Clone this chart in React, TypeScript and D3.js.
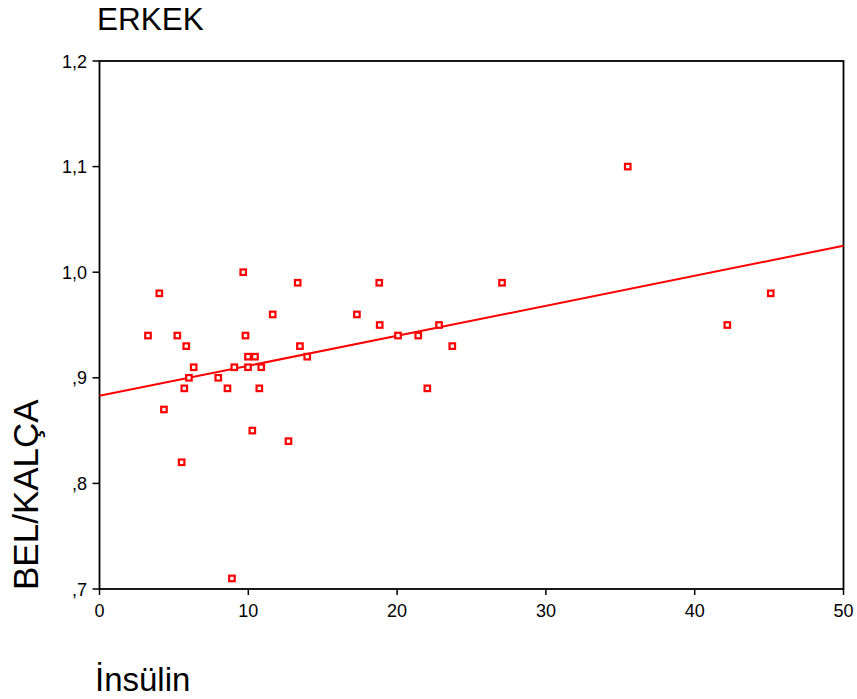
import React from "react";
import * as d3 from "d3";

const insulin = [3.26, 4.02, 4.33, 5.23, 5.52, 5.70, 5.83, 6.01, 6.33, 7.98, 8.60, 8.90, 9.06, 9.66, 9.81, 9.98, 9.98, 10.27, 10.45, 10.74, 10.87, 11.64, 12.70, 13.32, 13.47, 13.96, 17.30, 18.80, 18.83, 20.06, 21.42, 22.03, 22.82, 23.71, 27.05, 35.50, 42.19, 45.11];
const belKalca = [0.94, 0.98, 0.87, 0.94, 0.82, 0.89, 0.93, 0.90, 0.91, 0.90, 0.89, 0.71, 0.91, 1.00, 0.94, 0.92, 0.91, 0.85, 0.92, 0.89, 0.91, 0.96, 0.84, 0.99, 0.93, 0.92, 0.96, 0.99, 0.95, 0.94, 0.94, 0.89, 0.95, 0.93, 0.99, 1.10, 0.95, 0.98];
const regression = [0.883, 0.00284]; // intercept, slope
const xTicks = [0, 10, 20, 30, 40, 50];
const yTicks = [0.7, 0.8, 0.9, 1.0, 1.1, 1.2];
const yTickLabels = [",7", ",8", ",9", "1,0", "1,1", "1,2"];
const title = "ERKEK";
const xTitle = "İnsülin";
const yTitle = "BEL/KALÇA";

export default function App() {
  const W = 857, H = 699;
  const L = 99.5, R = 843.5, T = 61, B = 589;
  const x = d3.scaleLinear().domain([0, 50]).range([L, R]);
  const y = d3.scaleLinear().domain([0.7, 1.2]).range([B, T]);
  const font = "Arial, 'Liberation Sans', sans-serif";
  const line = d3.line<number>().x(d => x(d)).y(d => y(regression[0] + regression[1] * d));
  return (
    <svg width={W} height={H} style={{ position: "absolute", left: 0, top: 0, background: "#fff" }} fontFamily={font}>
      <rect x={0} y={0} width={W} height={H} fill="#fff" />
      <text x={97} y={29.5} fontSize={31.5} fill="#000">{title}</text>
      <rect x={L} y={T} width={R - L} height={B - T} fill="none" stroke="#000" strokeWidth={1.8} />
      {yTicks.map((t, i) => (
        <g key={"y" + i}>
          <line x1={L - 7} x2={L} y1={y(t)} y2={y(t)} stroke="#000" strokeWidth={1.5} />
          <text x={87} y={y(t) + 6.5} fontSize={18} textAnchor="end" fill="#000">{yTickLabels[i]}</text>
        </g>
      ))}
      {xTicks.map((t, i) => (
        <g key={"x" + i}>
          <line x1={x(t)} x2={x(t)} y1={B} y2={B + 6} stroke="#000" strokeWidth={1.5} />
          <text x={x(t)} y={617} fontSize={18} textAnchor="middle" fill="#000">{t}</text>
        </g>
      ))}
      <path d={line([0, 50]) || ""} stroke="#ff0000" strokeWidth={2} fill="none" />
      {insulin.map((v, i) => (
        <rect key={"p" + i} x={x(v) - 2.75} y={y(belKalca[i]) - 2.75} width={5.5} height={5.5} fill="#fff" stroke="#ff0000" strokeWidth={2.2} />
      ))}
      <text x={95} y={691} fontSize={33} fill="#000">{xTitle}</text>
      <text transform={`translate(37.5,590) rotate(-90)`} x={0} y={0} fontSize={35} fill="#000">{yTitle}</text>
    </svg>
  );
}
